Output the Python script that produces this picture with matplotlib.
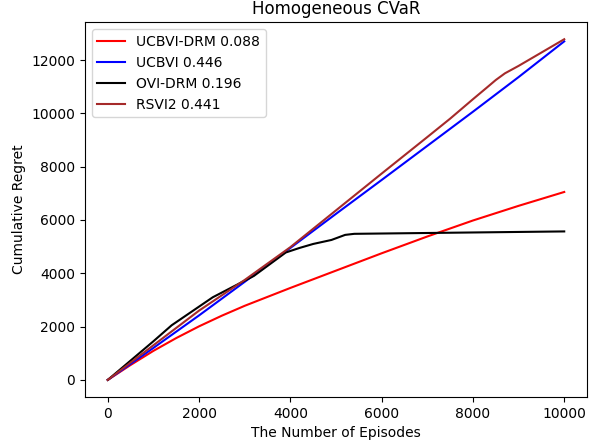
import numpy as np
import matplotlib
matplotlib.use('Agg')
import matplotlib.pyplot as plt

ep = [0, 500, 1000, 1500, 2000, 2500, 3000, 4000, 5000, 6000, 7000, 8000, 9000, 10000]

ucbvi_drm = [0, 560, 1090, 1570, 2010, 2410, 2780, 3450, 4100, 4750, 5380, 5980, 6530, 7050]
ucbvi_ep = [0, 1000, 2000, 3000, 4000, 5000, 6000, 7000, 8000, 9000, 10000]
ucbvi = [0, 1200, 2420, 3680, 4950, 6230, 7500, 8780, 10060, 11360, 12700]
rsvi2_ep = [0, 1000, 2000, 3000, 4000, 5000, 6000, 7000, 7500, 8000, 8300, 8500, 8700, 9000, 9500, 10000]
rsvi2 = [0, 1300, 2600, 3750, 4980, 6360, 7740, 9110, 9800, 10530, 10960, 11250, 11500, 11780, 12280, 12780]
ovi_ep = [0, 1000, 1400, 2300, 3200, 3900, 4200, 4500, 4900, 5200, 5400, 10000]
ovi_drm = [0, 1450, 2050, 3100, 3900, 4780, 4950, 5100, 5250, 5440, 5480, 5570]

plt.figure(figsize=(5.9, 4.44), dpi=100)
plt.plot(ep, ucbvi_drm, color='red', label='UCBVI-DRM 0.088')
plt.plot(ucbvi_ep, ucbvi, color='blue', label='UCBVI 0.446')
plt.plot(ovi_ep, ovi_drm, color='black', label='OVI-DRM 0.196')
plt.plot(rsvi2_ep, rsvi2, color='brown', label='RSVI2 0.441')
plt.xticks([0, 2000, 4000, 6000, 8000, 10000])
plt.yticks([0, 2000, 4000, 6000, 8000, 10000, 12000])
plt.xlabel('The Number of Episodes')
plt.ylabel('Cumulative Regret')
plt.title('Homogeneous CVaR')
plt.legend(loc='upper left')
plt.subplots_adjust(left=0.144, right=0.995, bottom=0.106, top=0.95)
plt.savefig('out.png')
